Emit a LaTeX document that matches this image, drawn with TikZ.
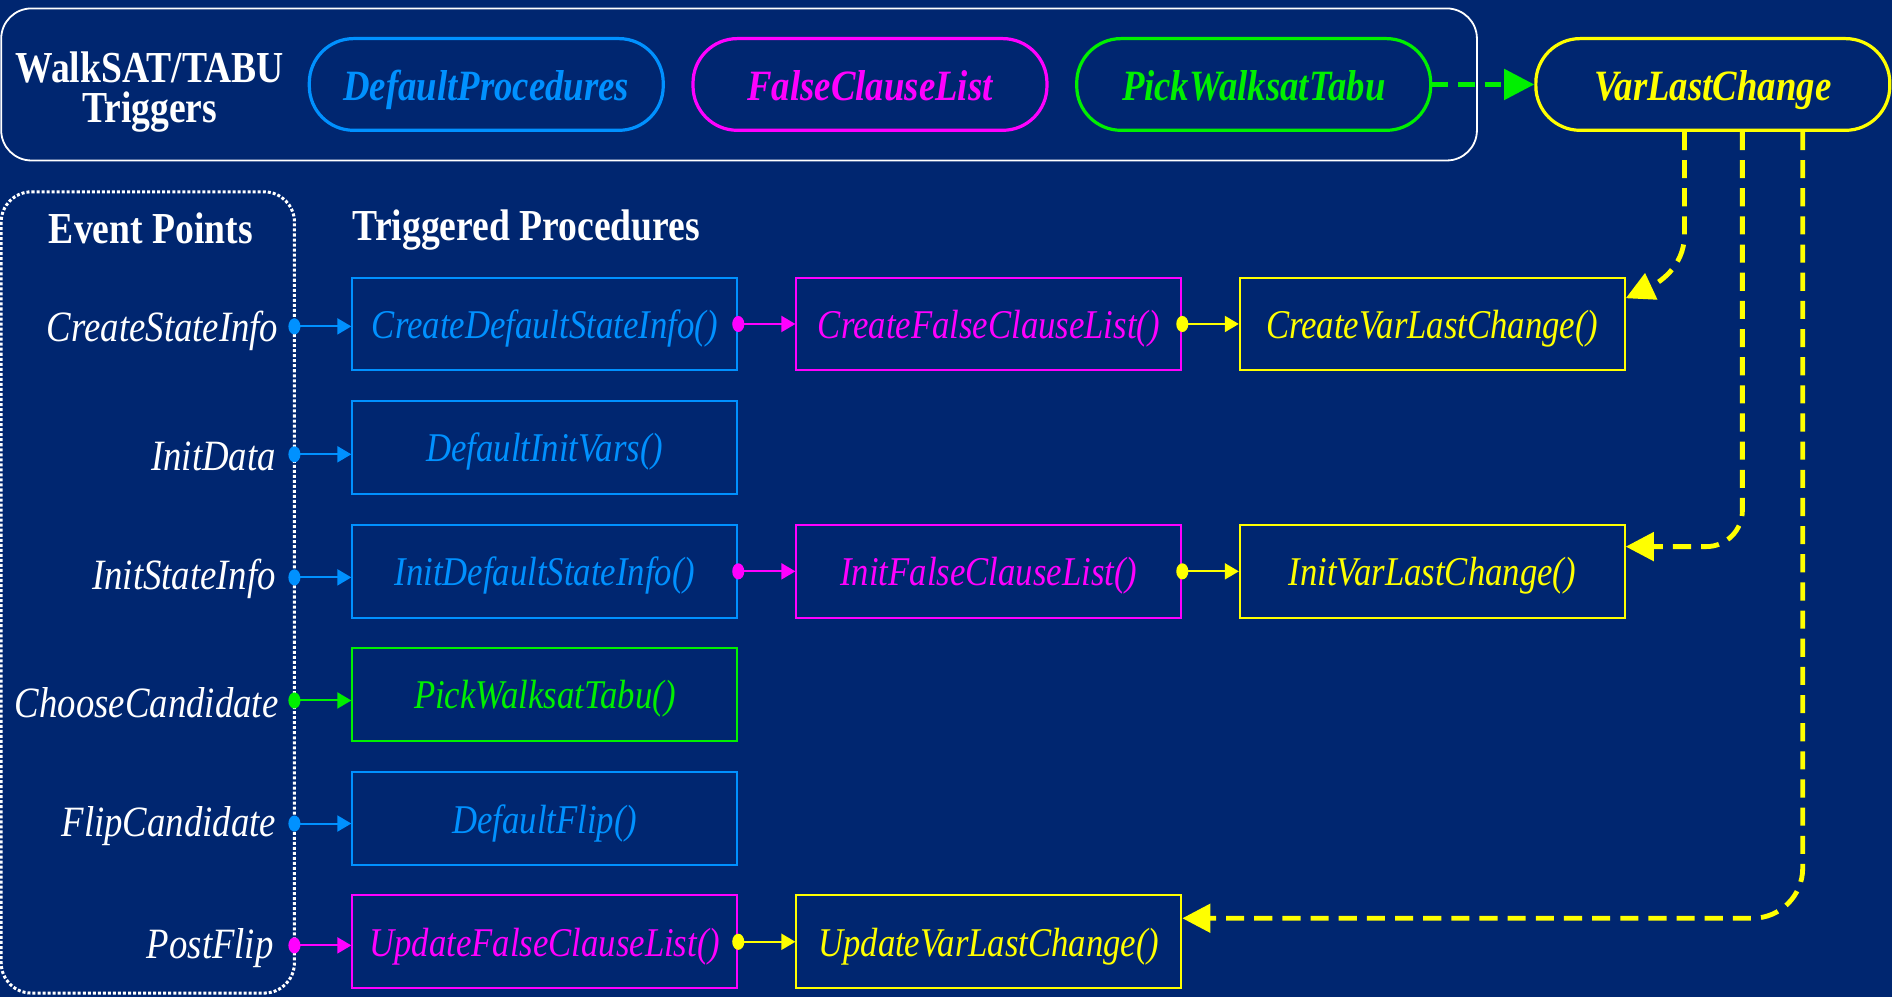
\documentclass[tikz,border=0pt]{standalone}
\usepackage{fontspec}
\setmainfont{Liberation Serif}[FakeStretch=0.85]
\usetikzlibrary{arrows.meta}
\definecolor{bg}{RGB}{0,38,112}
\definecolor{cblue}{RGB}{0,145,255}
\definecolor{cmag}{RGB}{255,0,255}
\definecolor{cgreen}{RGB}{0,240,0}
\definecolor{cyel}{RGB}{255,255,0}
\begin{document}
\begin{tikzpicture}[x=0.6pt,y=-0.6pt,
  pill/.style={draw=#1, text=#1, line width=1.6pt, rounded corners=22pt, minimum width=176pt, minimum height=45.6pt, font=\fontsize{21.5}{25}\selectfont\bfseries\itshape, inner sep=0pt, text height=20.5pt, text depth=4.5pt},
  proc/.style={draw=#1, text=#1, line width=1pt, minimum width=191.4pt, minimum height=46.2pt, font=\fontsize{20.3}{24}\selectfont\itshape, inner sep=0pt, text height=18.4pt, text depth=4pt},
  evlab/.style={text=white, anchor=east, font=\fontsize{21.5}{25}\selectfont\itshape, inner sep=0pt},
  head/.style={text=white, font=\fontsize{22}{25}\selectfont\bfseries, inner sep=0pt, align=center},
  conn/.style={draw=#1, line width=1pt, -{Triangle[length=7pt,width=8pt]}},
  vdash/.style={draw=cyel, line width=2.4pt, dash pattern=on 9pt off 5pt, -{Triangle[length=14pt,width=14pt]}},
]
\fill[bg] (0,0) rectangle (1568,826);
\useasboundingbox (0,0) rectangle (1568,826);

% frames
\draw[white, line width=0.9pt, rounded corners=15pt] (1,7) rectangle (1224,133);
\draw[white, line width=1.5pt, densely dotted, rounded corners=15pt] (1,159) rectangle (244,823);

% top row
\node[head] (trig) at (124,76) {WalkSAT/TABU\\[-5pt]Triggers};
\node[pill=cblue] (dp) at (403,70) {DefaultProcedures};
\node[pill=cmag] (fcl) at (721,70) {FalseClauseList};
\node[pill=cgreen] (pwt) at (1039,70) {PickWalksatTabu};
\node[pill=cyel] (vlc) at (1419.5,70) {VarLastChange};
\draw[draw=cgreen, line width=2.4pt, dash pattern=on 8pt off 5pt, -{Triangle[length=15pt,width=15pt]}] (pwt.east) -- (vlc.west);

% headings
\node[head] (ep) at (125,189) {Event Points};
\node[head, anchor=west] (tp) at (292,191) {Triggered Procedures};

% event labels
\node[evlab] (l1) at (231,274) {CreateStateInfo};
\node[evlab] (l2) at (229,378) {InitData};
\node[evlab] (l3) at (229,480) {InitStateInfo};
\node[evlab] (l4) at (231,582) {ChooseCandidate};
\node[evlab] (l5) at (229,685) {FlipCandidate};
\node[evlab] (l6) at (227,786) {PostFlip};

\coordinate (e1) at (244,270.5);
\coordinate (e2) at (244,376.5);
\coordinate (e3) at (244,478.5);
\coordinate (e4) at (244,580.5);
\coordinate (e5) at (244,682.5);
\coordinate (e6) at (244,783.5);

% procedure boxes
\node[proc=cblue] (b11) at (451.5,268.5) {CreateDefaultStateInfo()};
\node[proc=cmag] (b12) at (819.5,268.5) {CreateFalseClauseList()};
\node[proc=cyel] (b13) at (1187,268.5) {CreateVarLastChange()};
\node[proc=cblue] (b21) at (451.5,370.5) {DefaultInitVars()};
\node[proc=cblue] (b31) at (451.5,473.5) {InitDefaultStateInfo()};
\node[proc=cmag] (b32) at (819.5,473.5) {InitFalseClauseList()};
\node[proc=cyel] (b33) at (1187,473.5) {InitVarLastChange()};
\node[proc=cgreen] (b41) at (451.5,575.5) {PickWalksatTabu()};
\node[proc=cblue] (b51) at (451.5,678.5) {DefaultFlip()};
\node[proc=cmag] (b61) at (451.5,780.5) {UpdateFalseClauseList()};
\node[proc=cyel] (b62) at (819.5,780.5) {UpdateVarLastChange()};

% event connectors
\foreach \e/\b/\c in {e1/b11/cblue, e2/b21/cblue, e3/b31/cblue, e4/b41/cgreen, e5/b51/cblue, e6/b61/cmag}{
  \fill[\c] (\e) ellipse (3pt and 4pt);
  \draw[conn=\c] (\e) -- (\e -| \b.west);
}
% procedure connectors
\foreach \a/\b/\c in {b11/b12/cmag, b12/b13/cyel, b31/b32/cmag, b32/b33/cyel, b61/b62/cyel}{
  \fill[\c] (\a.east) ellipse (3pt and 4pt);
  \draw[conn=\c] (\a.east) -- (\b.west);
}

% VarLastChange dashed arrows
\draw[vdash] ([xshift=-14.1pt]vlc.south) -- ++(0,85) to[out=-90,in=25] ([yshift=-10.8pt]b13.north east);
\draw[vdash, rounded corners=18pt] ([xshift=14.7pt]vlc.south) |- ([yshift=12.3pt]b33.east);
\draw[vdash, rounded corners=25pt] ([xshift=44.7pt]vlc.south) |- ([yshift=11.7pt]b62.east);
\end{tikzpicture}
\end{document}
